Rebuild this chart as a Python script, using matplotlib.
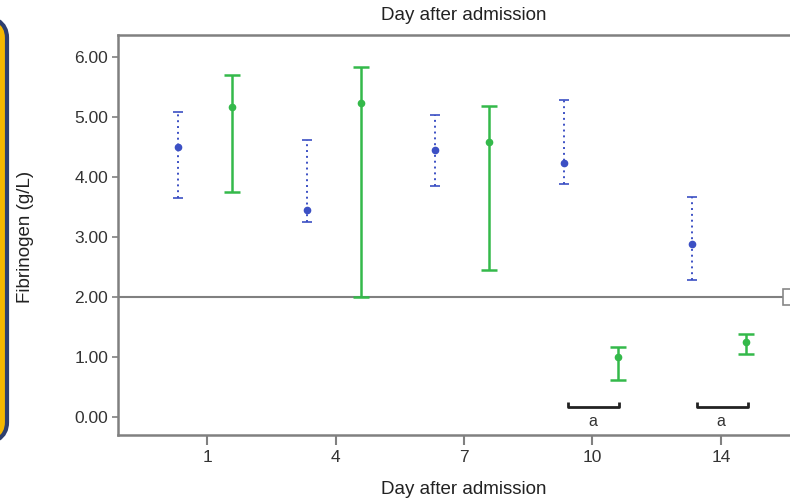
import matplotlib
matplotlib.use("Agg")
import matplotlib.pyplot as plt
from matplotlib.patches import FancyBboxPatch, Rectangle
import numpy as np

plt.rcParams['font.family'] = ['Liberation Sans', 'DejaVu Sans']

days = ["1", "4", "7", "10", "14"]
blue_mean = [4.50, 3.45, 4.45, 4.23, 2.88]
blue_low = [3.65, 3.25, 3.85, 3.88, 2.28]
blue_high = [5.08, 4.62, 5.03, 5.28, 3.67]
green_mean = [5.17, 5.23, 4.58, 1.00, 1.25]
green_low = [3.75, 2.00, 2.45, 0.62, 1.05]
green_high = [5.70, 5.83, 5.18, 1.17, 1.38]
ytick_vals = [0, 1, 2, 3, 4, 5, 6]
ytick_labels = ["0.00", "1.00", "2.00", "3.00", "4.00", "5.00", "6.00"]
sig_groups = [3, 4]
sig_label = "a"

W, H = 790, 503
fig = plt.figure(figsize=(W / 100, H / 100), dpi=100)

# left decorative panel
panel = FancyBboxPatch((-40 / W, 1 - 445 / H), 47 / W, (445 - 15) / H,
                       boxstyle="round,pad=0,rounding_size=0.045",
                       transform=fig.transFigure, facecolor="#f5b800",
                       edgecolor="#2e3f6e", linewidth=3, clip_on=False)
fig.patches.append(panel)

left, right, top, bottom = 118, 810, 35, 435
ax = fig.add_axes([left / W, 1 - bottom / H, (right - left) / W, (bottom - top) / H])

x = np.arange(len(days))
xb = x - 0.225
xg = x + 0.195

bm = np.array(blue_mean)
gm = np.array(green_mean)
eb = ax.errorbar(xb, bm, yerr=[bm - np.array(blue_low), np.array(blue_high) - bm],
                 fmt='o', color="#3c50c4", ms=4.5, elinewidth=1.4, capsize=3.5,
                 capthick=1.2, zorder=3)
eb[2][0].set_linestyle((0, (1, 2)))
eg = ax.errorbar(xg, gm, yerr=[gm - np.array(green_low), np.array(green_high) - gm],
                 fmt='o', color="#34b94a", ms=4.5, elinewidth=1.8, capsize=6,
                 capthick=1.8, zorder=3)

ax.axhline(2.0, color="#808080", lw=1.5, zorder=1)

for g in sig_groups:
    x0, x1 = g - 0.19, g + 0.21
    ax.plot([x0, x0, x1, x1], [0.25, 0.16, 0.16, 0.25], color="#222222", lw=2,
            solid_capstyle='butt')
    ax.text(g, -0.07, sig_label, ha='center', va='center', fontsize=11.5, color="#333333")

ax.set_xlim(-0.693, 4.693)
ax.set_ylim(-0.30, 6.367)
ax.set_xticks(x)
ax.set_xticklabels(days)
ax.set_yticks(ytick_vals)
ax.set_yticklabels(ytick_labels)
for s in ax.spines.values():
    s.set_color("#808080")
    s.set_linewidth(1.8)
ax.tick_params(axis='y', length=4, width=1.2, color="#808080", labelsize=12.5,
               labelcolor="#333333", pad=3)
ax.tick_params(axis='x', length=7, width=1.5, color="#808080", labelsize=12.5,
               labelcolor="#333333", pad=4)

# small box at right end of reference line
fig.patches.append(Rectangle((783 / W, 1 - 305 / H), 12 / W, 16 / H,
                             transform=fig.transFigure, facecolor="white",
                             edgecolor="#888888", lw=1.2, zorder=5))

fig.text(464 / W, 1 - 15 / H, "Day after admission", ha='center', va='center',
         fontsize=13.5, color="#222222")
fig.text(464 / W, 1 - 490 / H, "Day after admission", ha='center', va='center',
         fontsize=13.5, color="#222222")
fig.text(25 / W, 1 - 237 / H, "Fibrinogen (g/L)", ha='center', va='center',
         rotation=90, fontsize=13.5, color="#222222")

fig.savefig("out.png", dpi=100)
